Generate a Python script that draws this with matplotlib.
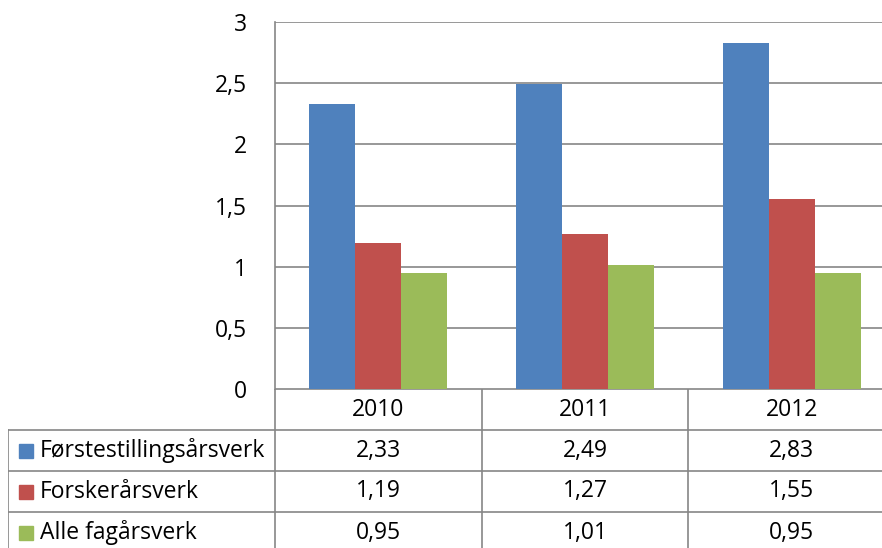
import matplotlib.pyplot as plt
import numpy as np

years = ["2010", "2011", "2012"]
series_names = ["Førstestillingsårsverk", "Forskerårsverk", "Alle fagårsverk"]
forstestilling = [2.33, 2.49, 2.83]
forsker = [1.19, 1.27, 1.55]
alle_fag = [0.95, 1.01, 0.95]
yticks = [0, 0.5, 1, 1.5, 2, 2.5, 3]
colors = ["#4F81BD", "#C0504D", "#9BBB59"]

plt.rcParams['font.family'] = ['Open Sans', 'DejaVu Sans']
grid_col = "#868686"
W, H = 882, 548
fs = 16.5

fig = plt.figure(figsize=(8.82, 5.48), dpi=100)

# plot area (right edge runs past the picture, as in the reference)
ax = fig.add_axes([275 / W, (H - 389) / H, (895 - 275) / W, (389 - 22) / H])
x = np.arange(len(years))
bw = 0.2226
values = [forstestilling, forsker, alle_fag]
for i, vals in enumerate(values):
    ax.bar(x + (i - 1) * bw, vals, bw, color=colors[i], zorder=3)
ax.set_xlim(-0.5, 2.5)
ax.set_ylim(0, 3)
ax.set_yticks(yticks)
ax.set_yticklabels([("%g" % t).replace(".", ",") for t in yticks], fontsize=fs)
ax.tick_params(axis='y', length=0, pad=20)
ax.set_xticks([])
ax.grid(axis='y', color=grid_col, linewidth=1.2, zorder=0)
for s in ["top", "right", "bottom"]:
    ax.spines[s].set_visible(False)
ax.spines["left"].set_color(grid_col)
ax.spines["left"].set_linewidth(1.2)

# data table under the chart
tx = fig.add_axes([8 / W, (H - 553) / H, (895 - 8) / W, (553 - 389) / H])
left = -0.5 - (275 - 8) / 206.6
tx.set_xlim(left, 2.5)
tx.set_ylim(4, 0)
tx.axis("off")
lw = 1.2
tx.plot([-0.5, 2.5], [0, 0], color=grid_col, lw=lw)
for r in [1, 2, 3]:
    tx.plot([left, 2.5], [r, r], color=grid_col, lw=lw)
tx.plot([left, left], [1, 4], color=grid_col, lw=lw)
for xv in [-0.5, 0.5, 1.5]:
    tx.plot([xv, xv], [0, 4], color=grid_col, lw=lw)

for j, yr in enumerate(years):
    tx.text(j, 0.5, yr, ha="center", va="center", fontsize=fs)
for i, name in enumerate(series_names):
    tx.plot(left + 0.085, i + 1.5, marker="s", markersize=10, color=colors[i], linestyle="none")
    tx.text(left + 0.155, i + 1.5, name, ha="left", va="center", fontsize=fs)
    for j, v in enumerate(values[i]):
        tx.text(j, i + 1.5, ("%.2f" % v).replace(".", ","), ha="center", va="center", fontsize=fs)

fig.savefig("out.png", dpi=100)
